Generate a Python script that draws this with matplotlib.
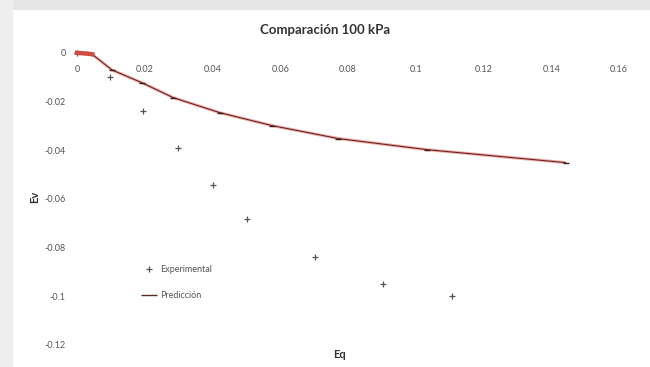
import matplotlib
matplotlib.use("Agg")
import matplotlib.pyplot as plt
from matplotlib.patches import Rectangle

# Experimental data (Eq, Ev)
exp_eq = [0.0, 0.0097, 0.0195, 0.0298, 0.0402, 0.0502, 0.0703, 0.0904, 0.1108]
exp_ev = [0.0, -0.0098, -0.0238, -0.0389, -0.0545, -0.0684, -0.0840, -0.0951, -0.1000]

# Model prediction (Eq, Ev)
pred_eq = [0.0, 0.001, 0.002, 0.003, 0.0045, 0.0103, 0.0192, 0.0284, 0.0422,
           0.0576, 0.0771, 0.1034, 0.1442]
pred_ev = [0.0, -0.0001, -0.0002, -0.0003, -0.0006, -0.0070, -0.0123, -0.0184,
           -0.0246, -0.0299, -0.0352, -0.0398, -0.0451]

x_ticks = [0, 0.02, 0.04, 0.06, 0.08, 0.1, 0.12, 0.14, 0.16]
x_tick_labels = ["0", "0.02", "0.04", "0.06", "0.08", "0.1", "0.12", "0.14", "0.16"]
y_ticks = [0, -0.02, -0.04, -0.06, -0.08, -0.1, -0.12]
y_tick_labels = ["0", "-0.02", "-0.04", "-0.06", "-0.08", "-0.1", "-0.12"]

title = "Comparación 100 kPa"
x_label = "Eq"
y_label = "Ev"

plt.rcParams["font.family"] = ["Lato", "DejaVu Sans"]

W, H = 650, 367
fig = plt.figure(figsize=(W / 100, H / 100), dpi=100)
fig.patch.set_facecolor("white")

# light grey frame strips at the top and left edges
fig.add_artist(Rectangle((0, 1 - 9 / H), 1, 9 / H, transform=fig.transFigure,
                         color="#e6e6e6", zorder=0))
fig.add_artist(Rectangle((0, 0), 12 / W, 1, transform=fig.transFigure,
                         color="#eeeeee", zorder=0))

x0, x1 = 0.0, 0.165
y0, y1 = -0.125, 0.002
px_left, px_right = 77, 636
py_top, py_bottom = 48, 357
ax = fig.add_axes([px_left / W, 1 - py_bottom / H,
                   (px_right - px_left) / W, (py_bottom - py_top) / H])
ax.set_xlim(x0, x1)
ax.set_ylim(y0, y1)
ax.set_facecolor("white")

for s in ["top", "right", "left"]:
    ax.spines[s].set_visible(False)
ax.spines["bottom"].set_position(("data", 0))
ax.spines["bottom"].set_visible(False)

ax.set_xticks(x_ticks)
ax.set_xticklabels(x_tick_labels)
ax.set_yticks(y_ticks)
ax.set_yticklabels(y_tick_labels)
ax.tick_params(axis="both", length=0, labelsize=6.5, labelcolor="#555555")
ax.tick_params(axis="x", pad=9)
ax.tick_params(axis="y", pad=8)

ax.plot(exp_eq, exp_ev, linestyle="none", marker="+", markersize=4,
        markeredgewidth=0.9, color="#555555", label="Experimental", clip_on=False)
ax.plot(pred_eq, pred_ev, color="#e05040", linewidth=2.2, alpha=0.45,
        solid_capstyle="butt", label="Predicción", clip_on=False)
ax.plot(pred_eq, pred_ev, color="#6a2424", linewidth=0.8, clip_on=False)
ax.plot(pred_eq[:5], pred_ev[:5], color="#d04a40", linewidth=3.2, clip_on=False)
ax.plot(pred_eq[5:], pred_ev[5:], linestyle="none", marker="_", markersize=4,
        markeredgewidth=1.0, color="#3a2020", clip_on=False)

leg = ax.legend(loc="upper left", bbox_to_anchor=(0.10, 0.325), frameon=False,
                fontsize=6.5, handlelength=1.8, handletextpad=0.3,
                labelspacing=1.9)
for t in leg.get_texts():
    t.set_color("#555555")
leg.get_lines()[1].set_color("#5a2a2a")
leg.get_lines()[1].set_linewidth(1.0)
leg.get_lines()[1].set_alpha(1.0)

fig.text(325 / W, 1 - 30 / H, title, ha="center", va="center",
         fontsize=9.5, fontweight="bold", color="#333333")
fig.text(340 / W, 1 - 355 / H, x_label, ha="center", va="center",
         fontsize=8, fontweight="bold", color="#333333")
fig.text(35 / W, 1 - 197 / H, y_label, ha="center", va="center", rotation=90,
         fontsize=8, fontweight="bold", color="#333333")

fig.savefig("out.png", dpi=100, facecolor=fig.get_facecolor())
